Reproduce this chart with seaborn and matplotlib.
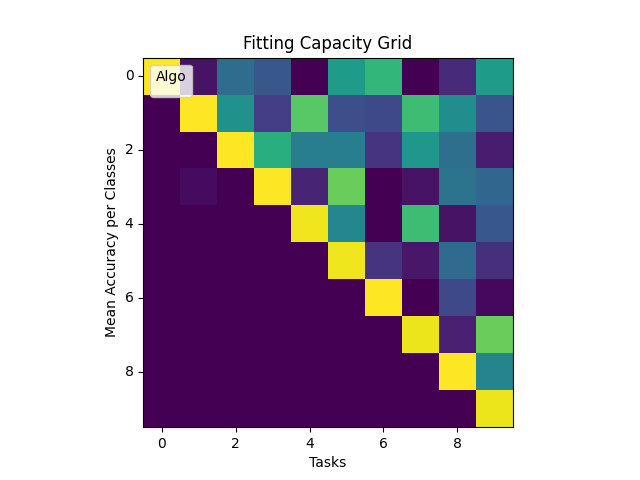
import numpy as np
import pandas as pd
import seaborn as sns
import matplotlib
matplotlib.use('Agg')
import matplotlib.pyplot as plt
from matplotlib.lines import Line2D

# 10x10 fitting capacity grid (rows = per-class accuracy, cols = tasks)
row0 = [1.00, 0.05, 0.35, 0.27, 0.00, 0.55, 0.66, 0.00, 0.12, 0.55]
row1 = [0.00, 1.00, 0.50, 0.18, 0.74, 0.24, 0.22, 0.69, 0.49, 0.26]
row2 = [0.00, 0.00, 1.00, 0.63, 0.42, 0.42, 0.15, 0.53, 0.36, 0.08]
row3 = [0.00, 0.03, 0.00, 1.00, 0.10, 0.77, 0.00, 0.05, 0.38, 0.33]
row4 = [0.00, 0.00, 0.00, 0.00, 0.98, 0.46, 0.00, 0.69, 0.05, 0.27]
row5 = [0.00, 0.00, 0.00, 0.00, 0.00, 0.98, 0.15, 0.06, 0.34, 0.14]
row6 = [0.00, 0.00, 0.00, 0.00, 0.00, 0.00, 1.00, 0.00, 0.22, 0.02]
row7 = [0.00, 0.00, 0.00, 0.00, 0.00, 0.00, 0.00, 0.97, 0.09, 0.77]
row8 = [0.00, 0.00, 0.00, 0.00, 0.00, 0.00, 0.00, 0.00, 1.00, 0.45]
row9 = [0.00, 0.00, 0.00, 0.00, 0.00, 0.00, 0.00, 0.00, 0.00, 0.97]
tick_vals = [0, 2, 4, 6, 8]

grid = pd.DataFrame([row0, row1, row2, row3, row4, row5, row6, row7, row8, row9])

fig, ax = plt.subplots(figsize=(6.4, 4.8), dpi=100)
sns.heatmap(grid, cmap='viridis', cbar=False, square=True, ax=ax)

# imshow-like look: ticks on cell centres, full frame
ax.set_xticks([v + 0.5 for v in tick_vals])
ax.set_xticklabels(tick_vals, rotation=0)
ax.set_yticks([v + 0.5 for v in tick_vals])
ax.set_yticklabels(tick_vals, rotation=0)
ax.tick_params(length=3.5, width=0.8, labelsize=10)
for s in ax.spines.values():
    s.set_visible(True)
    s.set_linewidth(0.8)
    s.set_color('black')

ax.set_title('Fitting Capacity Grid', fontsize=12)
ax.set_xlabel('Tasks', fontsize=10)
ax.set_ylabel('Mean Accuracy per Classes', fontsize=10)

# legend with label only (no visible handle), a bit taller box like the original
dummy = Line2D([], [], linestyle='none')
ax.legend([dummy, dummy], ['Algo', ' '], loc='upper left', handlelength=0,
          handletextpad=0, fontsize=10, labelspacing=-0.5)

ax.set_position([0.125, 0.11, 0.775, 0.77])
fig.savefig('out.png', dpi=100)
